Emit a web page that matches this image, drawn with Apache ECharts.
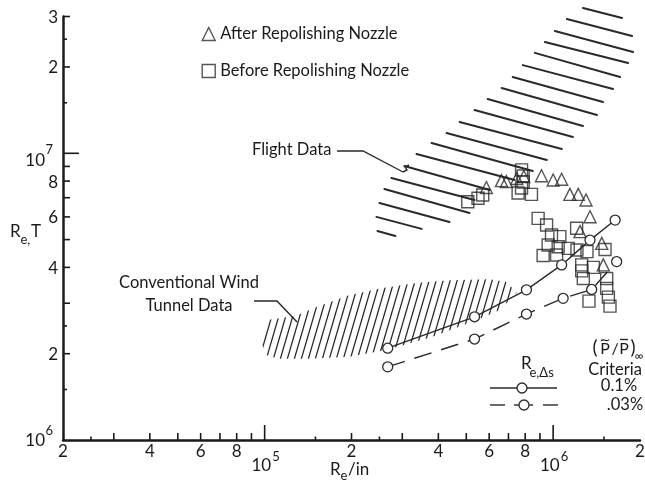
<!DOCTYPE html>
<html>
<head>
<meta charset="utf-8">
<script src="https://cdn.jsdelivr.net/npm/echarts@6/dist/echarts.min.js"></script>
<style>
html,body{margin:0;padding:0;background:#fff;}
#chart{width:645px;height:481px;}
</style>
</head>
<body>
<div id="chart"></div>
<script>
// ---------------- data ----------------
const xMin = 2e4, xMax = 2e6, yMin = 1e6, yMax = 3e7;

const afterPolish = [[5.87e5,7.6e6],[6.62e5,8.03e6],[6.88e5,7.97e6],[7.48e5,8.17e6],[7.91e5,8.3e6],
  [9.11e5,8.35e6],[1.0e6,8.07e6],[1.07e6,8.12e6],[1.143e6,7.19e6],[1.222e6,7.19e6],[1.30e6,6.87e6],
  [1.342e6,6.01e6],[1.239e6,5.33e6],[1.474e6,4.85e6],[1.492e6,4.08e6]];

const beforePolish = [[5.06e5,6.78e6],[5.49e5,6.97e6],[5.70e5,7.15e6],[7.77e5,8.75e6],[7.87e5,8.33e6],
  [7.87e5,7.94e6],[7.56e5,7.27e6],[7.77e5,7.57e6],[8.41e5,7.19e6],[8.87e5,5.93e6],[9.49e5,5.62e6],
  [9.87e5,5.19e6],[1.055e6,5.12e6],[9.61e5,4.79e6],[1.041e6,4.72e6],[1.128e6,4.66e6],[9.23e5,4.40e6],
  [1.028e6,4.42e6],[1.206e6,5.48e6],[1.209e6,4.60e6],[1.31e6,4.54e6],[1.513e6,4.62e6],[1.256e6,4.08e6],
  [1.256e6,3.89e6],[1.272e6,3.66e6],[1.378e6,4.0e6],[1.533e6,3.66e6],[1.533e6,3.38e6],[1.554e6,3.15e6],
  [1.331e6,3.05e6],[1.574e6,2.93e6]];

const solidRe = [2.67e5, 5.34e5, 8.08e5, 1.07e6, 1.342e6, 1.64e6];
const solidReT = [2.09e6, 2.69e6, 3.34e6, 4.08e6, 4.98e6, 5.85e6];
const dashedRe = [2.67e5, 5.34e5, 8.08e5, 1.083e6, 1.36e6, 1.66e6];
const dashedReT = [1.80e6, 2.25e6, 2.75e6, 3.12e6, 3.35e6, 4.19e6];

const flightHatchStart = [[1.269e6,3.21e7],[1.116e6,2.94e7],[1.014e6,2.67e7],[9.36e5,2.445e7],[8.64e5,2.24e7],
  [7.85e5,2.03e7],[7.24e5,1.845e7],[6.63e5,1.69e7],[5.93e5,1.547e7],[5.34e5,1.416e7],[4.74e5,1.286e7],
  [4.27e5,1.177e7],[3.79e5,1.086e7],[3.36e5,9.94e6],[3.05e5,9.03e6],[2.75e5,8.2e6],[2.60e5,7.51e6],
  [2.50e5,6.71e6],[2.44e5,6.0e6],[2.46e5,5.36e6]];
const flightHatchEnd = [[1.733e6,2.965e7],[1.878e6,2.566e7],[1.893e6,2.256e7],[1.819e6,2.065e7],[1.706e6,1.845e7],
  [1.613e6,1.676e7],[1.489e6,1.51e7],[1.419e6,1.36e7],[1.269e6,1.245e7],[1.171e6,1.14e7],[1.072e6,1.035e7],
  [9.51e5,9.48e6],[8.5e5,8.68e6],[7.36e5,8.07e6],[6.03e5,7.45e6],[5.34e5,6.87e6],[5.13e5,6.19e6],
  [4.37e5,5.76e6],[3.50e5,5.45e6],[2.84e5,5.15e6]];

const convUpper = [[9.71e4,2.23e6],[1.02e5,2.62e6],[1.285e5,2.71e6],[1.51e5,2.91e6],[1.96e5,3.2e6],
  [2.56e5,3.39e6],[3.36e5,3.53e6],[4.37e5,3.61e6],[6.03e5,3.64e6],[6.9e5,3.56e6],[7.48e5,3.26e6]];
const convLower = [[6.53e5,2.84e6],[5.43e5,2.62e6],[3.82e5,2.29e6],[2.64e5,2.06e6],[1.96e5,1.95e6],
  [1.426e5,1.92e6],[1.12e5,1.92e6],[1.01e5,1.98e6],[9.71e4,2.2e6]];

const xTickMajor = [1e5, 1e6];
const xTickMinor = [3e4,4e4,5e4,6e4,7e4,8e4,9e4,2e5,3e5,4e5,5e5,6e5,7e5,8e5,9e5];
const xTickHalf = [2.5e4,1.5e5,2.5e5,1.5e6];
const yTickMajor = [1e7];
const yTickMinor = [2e6,3e6,4e6,5e6,6e6,7e6,8e6,9e6,2e7,3e7];
const yTickHalf = [1.5e6,2.5e6,1.5e7,2.5e7];

const xLabelValues = [2e4,4e4,6e4,8e4,1e5,2e5,4e5,6e5,8e5,1e6,2e6];
const xTickLabels = ['2','4','6','8','10^5','2','4','6','8','10^6','2'];
const yLabelValues = [1e6,2e6,4e6,6e6,8e6,1e7,2e7,3e7];
const yTickLabels = ['10^6','2','4','6','8','10^7','2','3'];

// ---------------- styling ----------------
const TXT = '#1a1a1a';
const INK = '#2a2a2a';
const FONT = 'Lato';

function makeHatch() {
  const W = 7, H = 24;
  const c = document.createElement('canvas');
  c.width = W; c.height = H;
  const ctx = c.getContext('2d');
  ctx.strokeStyle = INK; ctx.lineWidth = 1.3;
  for (let k = -1; k <= 1; k++) {
    ctx.beginPath();
    ctx.moveTo(k * W - W * 0.3, H + H * 0.3);
    ctx.lineTo(k * W + W + W * 0.3, -H * 0.3);
    ctx.stroke();
  }
  return c;
}
const hatchPattern = { image: makeHatch(), repeat: 'repeat' };

function txt(text, x, y, size, align, vAlign) {
  return { type: 'text', x: x, y: y, z: 100, silent: true,
    style: { text: text, fontSize: size, fontFamily: FONT, fill: TXT,
      align: align || 'left', verticalAlign: vAlign || 'middle' } };
}
function pl(points, dash) {
  return { type: 'polyline', z: 100, silent: true, shape: { points: points },
    style: { stroke: INK, lineWidth: 1.4, fill: null, lineDash: dash || null } };
}
function circ(cx, cy) {
  return { type: 'circle', z: 101, silent: true, shape: { cx: cx, cy: cy, r: 5 },
    style: { fill: '#fff', stroke: INK, lineWidth: 1.3 } };
}

const graphics = [
  // axis titles
  txt('R', 10, 232, 17), txt('e,', 20.5, 240, 13), txt('T', 31, 232, 17),
  txt('R', 330, 470, 17), txt('e', 340.5, 476, 13), txt('/in', 348, 470, 17),
  // annotations
  txt('Flight Data', 252, 150, 16.5),
  pl([[337,151],[363,151],[403,172]]),
  pl([[403,172],[407,170],[405,167],[409,165]]),
  txt('Conventional Wind', 189, 283, 16.5, 'center'),
  txt('Tunnel Data', 189, 306, 16.5, 'center'),
  pl([[254,301],[277,301],[297,322]]),
  // bottom-right legend
  txt('R', 521, 364, 17), txt('e,\u0394s', 529.5, 372.5, 13),
  pl([[490,388],[557,388]]), circ(522, 388),
  pl([[490,405],[505,405]]), pl([[514,405],[533,405]]), circ(524, 405), pl([[543,405],[558,405]]),
  txt('(', 595, 348, 19, 'center'), txt('P', 605, 349, 16, 'center'), txt('/', 615, 349, 16, 'center'),
  txt('P', 624, 349, 16, 'center'), txt(')', 633, 348, 19, 'center'), txt('\u221E', 639, 356, 12, 'center'),
  { type: 'bezierCurve', z: 100, silent: true,
    shape: { x1: 601, y1: 341, cpx1: 603.5, cpy1: 337.5, cpx2: 606.5, cpy2: 343, x2: 609, y2: 339.5 },
    style: { stroke: TXT, lineWidth: 1.2, fill: null } },
  pl([[620,339.5],[628,339.5]]),
  txt('Criteria', 615, 370, 16.5, 'center'),
  txt('0.1%', 619, 386, 16.5, 'center'),
  txt('.03%', 625, 405, 16.5, 'center')
];

function tickSeries(axis) {
  const vals = axis === 'x'
    ? [].concat(xTickMajor.map(v => [v, yMin, 15]), xTickMinor.map(v => [v, yMin, 7]), xTickHalf.map(v => [v, yMin, 3.5]))
    : [].concat(yTickMajor.map(v => [xMin, v, 16]), yTickMinor.map(v => [xMin, v, 7]), yTickHalf.map(v => [xMin, v, 4]));
  return {
    type: 'custom', coordinateSystem: 'cartesian2d', silent: true, z: 6, data: vals,
    renderItem: function (params, api) {
      const p = api.coord([api.value(0), api.value(1)]);
      const len = api.value(2);
      const shape = axis === 'x'
        ? { x1: p[0], y1: p[1], x2: p[0], y2: p[1] - len }
        : { x1: p[0], y1: p[1], x2: p[0] + len, y2: p[1] };
      return { type: 'line', shape: shape, style: { stroke: TXT, lineWidth: 1.6 } };
    }
  };
}

function labelText(text, x, y, size, align) {
  return { type: 'text', style: { text: text, x: x, y: y, fontSize: size, fontFamily: FONT,
    fill: TXT, align: align, verticalAlign: 'middle' } };
}

const xLabelSeries = {
  type: 'custom', coordinateSystem: 'cartesian2d', silent: true, z: 6,
  data: xLabelValues.map((v, i) => [v, yMin, i]),
  renderItem: function (params, api) {
    const p = api.coord([api.value(0), api.value(1)]);
    const lab = xTickLabels[api.value(2)];
    if (lab.indexOf('10^') === 0) {
      return { type: 'group', children: [
        labelText('10', p[0] + 6.5, p[1] + 26, 17, 'right'),
        labelText(lab.slice(3), p[0] + 7.5, p[1] + 17, 13, 'left')
      ] };
    }
    return labelText(lab, p[0], p[1] + 12, 17, 'center');
  }
};

const yLabelSeries = {
  type: 'custom', coordinateSystem: 'cartesian2d', silent: true, z: 6,
  data: yLabelValues.map((v, i) => [xMin, v, i]),
  renderItem: function (params, api) {
    const p = api.coord([api.value(0), api.value(1)]);
    const lab = yTickLabels[api.value(2)];
    if (lab.indexOf('10^') === 0) {
      const atCorner = api.value(1) === yMin;
      const dy = atCorner ? 1 : 7;
      return { type: 'group', children: [
        labelText('10', 45, p[1] + dy, 17, 'right'),
        labelText(lab.slice(3), 45.5, p[1] + dy - 10, 13, 'left')
      ] };
    }
    return labelText(lab, 58, p[1] + 1, 17, 'right');
  }
};

const hollow = { color: 'rgba(255,255,255,0)', borderColor: INK, borderWidth: 1.4 };

const option = {
  animation: false,
  backgroundColor: '#fff',
  grid: { left: 63, right: 5, top: 16.5, bottom: 41 },
  xAxis: { type: 'log', logBase: 10, min: xMin, max: xMax,
    axisLine: { show: true, lineStyle: { color: TXT, width: 2.5 } },
    axisTick: { show: false }, axisLabel: { show: false }, splitLine: { show: false }, minorTick: { show: false } },
  yAxis: { type: 'log', logBase: 10, min: yMin, max: yMax,
    axisLine: { show: true, lineStyle: { color: TXT, width: 2.5 } },
    axisTick: { show: false }, axisLabel: { show: false }, splitLine: { show: false }, minorTick: { show: false } },
  legend: {
    orient: 'vertical', left: 196.5, top: 20.5, itemWidth: 13, itemHeight: 13, itemGap: 20,
    selectedMode: false,
    textStyle: { fontFamily: FONT, fontSize: 16.5, color: TXT },
    data: [
      { name: 'After Repolishing Nozzle', icon: 'triangle', itemStyle: hollow },
      { name: 'Before Repolishing Nozzle', icon: 'rect', itemStyle: hollow }
    ]
  },
  graphic: graphics,
  series: [
    {
      type: 'custom', coordinateSystem: 'cartesian2d', silent: true, z: 1,
      data: [convUpper[0]],
      renderItem: function (params, api) {
        const pts = convUpper.concat(convLower).map(p => api.coord(p));
        return { type: 'polygon', shape: { points: pts }, style: { fill: hatchPattern, stroke: null } };
      }
    },
    {
      type: 'custom', coordinateSystem: 'cartesian2d', silent: true, z: 2, clip: false,
      data: flightHatchStart.map((s, i) => [s[0], s[1], flightHatchEnd[i][0], flightHatchEnd[i][1]]),
      renderItem: function (params, api) {
        const a = api.coord([api.value(0), api.value(1)]);
        const b = api.coord([api.value(2), api.value(3)]);
        return { type: 'line', shape: { x1: a[0], y1: a[1], x2: b[0], y2: b[1] },
          style: { stroke: INK, lineWidth: 2, lineCap: 'round' } };
      }
    },
    tickSeries('x'), tickSeries('y'), xLabelSeries, yLabelSeries,
    {
      name: 'After Repolishing Nozzle', type: 'scatter', z: 4, symbol: 'triangle', symbolSize: 12,
      itemStyle: hollow, data: afterPolish
    },
    {
      name: 'Before Repolishing Nozzle', type: 'scatter', z: 4, symbol: 'rect', symbolSize: 12,
      itemStyle: hollow, data: beforePolish
    },
    {
      name: 'Criteria 0.1%', type: 'line', z: 5, symbol: 'circle', symbolSize: 10, showAllSymbol: true,
      lineStyle: { color: INK, width: 1.4 }, itemStyle: { color: '#fff', borderColor: INK, borderWidth: 1.3 },
      data: solidRe.map((x, i) => [x, solidReT[i]])
    },
    {
      name: 'Criteria .03%', type: 'line', z: 5, symbol: 'circle', symbolSize: 10, showAllSymbol: true,
      lineStyle: { color: INK, width: 1.4, type: [18, 10] }, itemStyle: { color: '#fff', borderColor: INK, borderWidth: 1.3 },
      data: dashedRe.map((x, i) => [x, dashedReT[i]])
    }
  ]
};

const chart = echarts.init(document.getElementById('chart'), null, { renderer: 'canvas', width: 645, height: 481 });
chart.setOption(option);
</script>
</body>
</html>
